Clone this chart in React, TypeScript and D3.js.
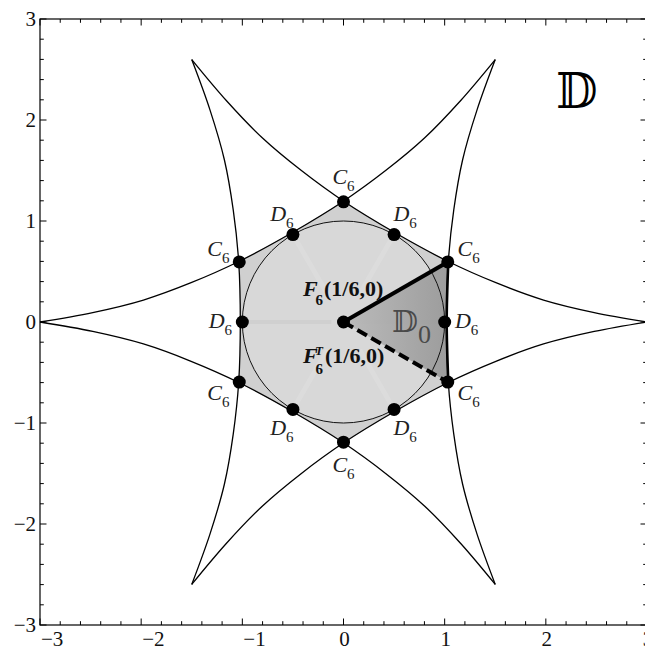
import React, { useRef, useEffect } from 'react';
import * as d3 from 'd3';

// axis ticks
const xTicks = [-3, -2, -1, 0, 1, 2, 3];
const yTicks = [-3, -2, -1, 0, 1, 2, 3];

// upper half of the right boundary curve (lower half is its mirror image)
const branchX = [1.02, 1.036, 1.09, 1.177, 1.32, 1.5];
const branchY = [0, 0.597, 1.11, 1.604, 2.1, 2.598];
const curveTurns = [0, 60, 120, 180, 240, 300];

// marked points
const c6Radius = 1.19;
const c6Angles = [30, 90, 150, 210, 270, 330];
const d6Radius = 1;
const d6Angles = [0, 60, 120, 180, 240, 300];

const rot = (p, deg) => {
  const t = (deg * Math.PI) / 180;
  return [p[0] * Math.cos(t) - p[1] * Math.sin(t), p[0] * Math.sin(t) + p[1] * Math.cos(t)];
};
const polar = (r, deg) => rot([r, 0], deg);

const App = () => {
  const svgRef = useRef(null);

  useEffect(() => {
    const svg = d3.select(svgRef.current);
    svg.selectAll('*').remove();

    const x = d3.scaleLinear().domain([-3, 3]).range([40, 647]);
    const y = d3.scaleLinear().domain([-3, 3]).range([625, 19]);
    const serif = "'Liberation Serif', 'Times New Roman', serif";

    const defs = svg.append('defs');
    const grad = defs.append('linearGradient').attr('id', 'd0grad')
      .attr('x1', '0%').attr('x2', '100%').attr('y1', '0%').attr('y2', '0%');
    grad.append('stop').attr('offset', '0%').attr('stop-color', '#b8b8b8');
    grad.append('stop').attr('offset', '100%').attr('stop-color', '#969696');

    const half = branchX.map((v, i) => [v, branchY[i]]);
    const full = [...half.slice(1).reverse().map(([a, b]) => [a, -b]), ...half];
    const mid = full.filter(p => Math.abs(p[1]) < 0.6);

    const smooth = d3.line().x(d => x(d[0])).y(d => y(d[1])).curve(d3.curveCatmullRom.alpha(0.5));
    const closed = d3.line().x(d => x(d[0])).y(d => y(d[1])).curve(d3.curveLinearClosed);

    // curved hexagon fill
    const hex = curveTurns.flatMap(t => mid.map(p => rot(p, t)));
    svg.append('path').attr('d', closed(hex)).attr('fill', '#d0d0d0');

    // unit disc
    const rx = x(1) - x(0), ry = y(0) - y(1);
    svg.append('ellipse').attr('cx', x(0)).attr('cy', y(0)).attr('rx', rx).attr('ry', ry)
      .attr('fill', '#d8d8d8');

    // faint rendering streaks in the disc
    [60, 120, 240, 300].forEach(a => {
      const p0 = polar(0.32, a), p1 = polar(0.96, a);
      svg.append('line').attr('x1', x(p0[0])).attr('y1', y(p0[1])).attr('x2', x(p1[0])).attr('y2', y(p1[1]))
        .attr('stroke', '#e2e2e2').attr('stroke-width', 5).attr('opacity', 0.45);
    });
    [0, 180].forEach(a => {
      const p0 = polar(0.12, a), p1 = polar(0.96, a);
      svg.append('line').attr('x1', x(p0[0])).attr('y1', y(p0[1])).attr('x2', x(p1[0])).attr('y2', y(p1[1]))
        .attr('stroke', '#c8c8c8').attr('stroke-width', 4).attr('opacity', 0.45);
    });

    // fundamental domain D0
    const d0 = [[0, 0], ...mid];
    svg.append('path').attr('d', closed(d0)).attr('fill', 'url(#d0grad)').attr('opacity', 0.9);

    svg.append('ellipse').attr('cx', x(0)).attr('cy', y(0)).attr('rx', rx).attr('ry', ry)
      .attr('fill', 'none').attr('stroke', '#111').attr('stroke-width', 1);

    // boundary curves
    curveTurns.forEach(t => {
      svg.append('path').attr('d', smooth(full.map(p => rot(p, t))))
        .attr('fill', 'none').attr('stroke', '#000').attr('stroke-width', 1.3);
    });
    svg.append('path').attr('d', smooth(mid)).attr('fill', 'none')
      .attr('stroke', '#000').attr('stroke-width', 2.6);

    // F6 edges
    const cTop = polar(c6Radius, 30), cBot = polar(c6Radius, -30);
    svg.append('line').attr('x1', x(0)).attr('y1', y(0)).attr('x2', x(cTop[0])).attr('y2', y(cTop[1]))
      .attr('stroke', '#000').attr('stroke-width', 4);
    svg.append('line').attr('x1', x(0)).attr('y1', y(0)).attr('x2', x(cBot[0])).attr('y2', y(cBot[1]))
      .attr('stroke', '#000').attr('stroke-width', 4).attr('stroke-dasharray', '11,5');

    // points
    const pts = [
      ...c6Angles.map(a => ({ p: polar(c6Radius, a), a, name: 'C' })),
      ...d6Angles.map(a => ({ p: polar(d6Radius, a), a, name: 'D' })),
    ];
    svg.append('circle').attr('cx', x(0)).attr('cy', y(0)).attr('r', 6.5).attr('fill', '#000');
    pts.forEach(d => {
      svg.append('circle').attr('cx', x(d.p[0])).attr('cy', y(d.p[1])).attr('r', 6.5).attr('fill', '#000');
      const off = d.name === 'C' ? 24 : 22;
      const lx = x(d.p[0]) + off * Math.cos((d.a * Math.PI) / 180);
      const ly = y(d.p[1]) - off * Math.sin((d.a * Math.PI) / 180);
      const t = svg.append('text').attr('x', lx).attr('y', ly + 6).attr('text-anchor', 'middle')
        .attr('font-family', serif).attr('font-size', 22).attr('fill', '#222');
      t.append('tspan').attr('font-style', 'italic').text(d.name);
      t.append('tspan').attr('font-size', 15).attr('dy', 7).text('6');
    });

    // F6 labels
    const bold = g => g.attr('font-family', serif).attr('font-weight', 'bold').attr('fill', '#111');
    bold(svg.append('text').attr('x', 303).attr('y', 296).attr('font-size', 22).attr('font-style', 'italic')).text('F');
    bold(svg.append('text').attr('x', 315.5).attr('y', 305).attr('font-size', 15)).text('6');
    bold(svg.append('text').attr('x', 324).attr('y', 296).attr('font-size', 22)).text('(1/6,0)');
    bold(svg.append('text').attr('x', 303).attr('y', 363).attr('font-size', 22).attr('font-style', 'italic')).text('F');
    bold(svg.append('text').attr('x', 315).attr('y', 355).attr('font-size', 13).attr('font-style', 'italic')).text('T');
    bold(svg.append('text').attr('x', 315.5).attr('y', 374).attr('font-size', 15)).text('6');
    bold(svg.append('text').attr('x', 325).attr('y', 363).attr('font-size', 22)).text('(1/6,0)');

    // D0 and D symbols
    svg.append('text').attr('x', 392).attr('y', 332).attr('font-family', "'DejaVu Serif', 'DejaVu Sans', serif")
      .attr('font-size', 30).attr('fill', '#4a4a4a').text('𝔻');
    svg.append('text').attr('x', 418).attr('y', 343).attr('font-family', serif)
      .attr('font-size', 26).attr('fill', '#4a4a4a').text('0');
    svg.append('text').attr('x', 556).attr('y', 108).attr('font-family', "'DejaVu Serif', 'DejaVu Sans', serif")
      .attr('font-size', 48).attr('fill', '#000').text('𝔻');

    // frame
    const [x0, x1] = x.range(), [y0, y1] = y.range();
    svg.append('rect').attr('x', x0).attr('y', y1).attr('width', x1 - x0).attr('height', y0 - y1)
      .attr('fill', 'none').attr('stroke', '#000').attr('stroke-width', 1.2);

    const minor = d3.range(-3, 3.001, 0.2).map(v => Math.round(v * 10) / 10);
    minor.forEach(v => {
      const major = Math.abs(v - Math.round(v)) < 1e-6;
      const len = major ? 6.5 : 3.8;
      const tk = (a, b, c, dd) => svg.append('line').attr('x1', a).attr('y1', b).attr('x2', c).attr('y2', dd)
        .attr('stroke', '#000').attr('stroke-width', 1);
      tk(x(v), y0, x(v), y0 - len);
      tk(x(v), y1, x(v), y1 + len);
      tk(x0, y(v), x0 + len, y(v));
      tk(x1, y(v), x1 - len, y(v));
    });

    const lbl = v => (v < 0 ? '\u2212' + Math.abs(v) : String(v));
    xTicks.forEach(v => {
      svg.append('text').attr('x', x(v) + 1).attr('y', 646)
        .attr('text-anchor', v < 0 ? 'start' : 'middle')
        .attr('font-family', serif).attr('font-size', 21).attr('fill', '#111').text(lbl(v));
    });
    yTicks.forEach(v => {
      svg.append('text').attr('x', 36).attr('y', y(v) + 7).attr('text-anchor', 'end')
        .attr('font-family', serif).attr('font-size', 21).attr('fill', '#111').text(lbl(v));
    });
  }, []);

  return (
    <div style={{ position: 'absolute', left: 0, top: 0, background: '#fff' }}>
      <svg ref={svgRef} width={645} height={650} style={{ display: 'block' }} />
    </div>
  );
};

export default App;
